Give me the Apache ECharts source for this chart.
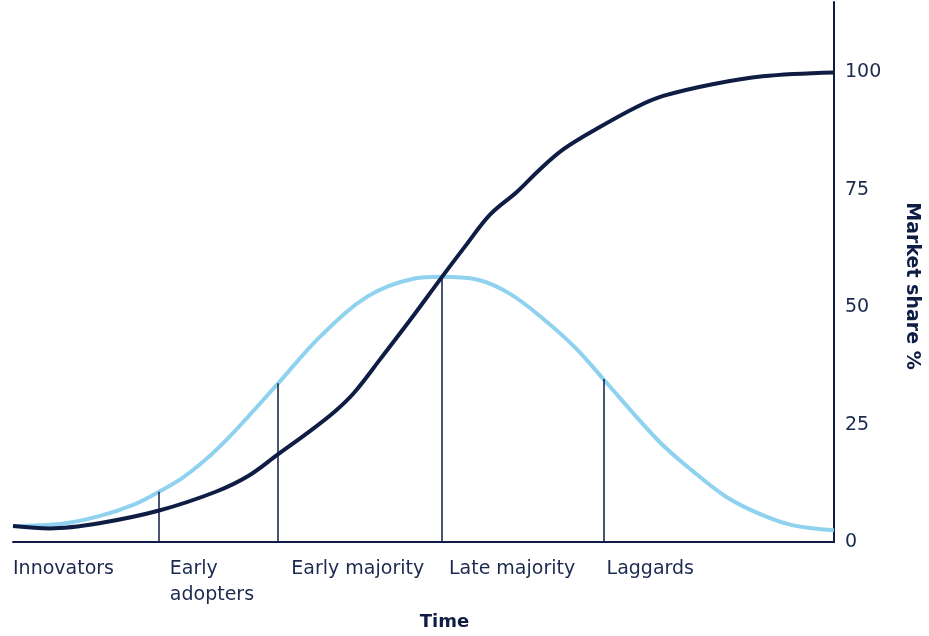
<!DOCTYPE html>
<html>
<head>
<meta charset="utf-8">
<script src="https://cdn.jsdelivr.net/npm/echarts@6/dist/echarts.min.js"></script>
<style>html,body{margin:0;padding:0;background:#fff;}#c{width:929px;height:636px;}</style>
</head>
<body>
<div id="c"></div>
<script>
// Cumulative market share (S-curve)
const shareX = [0, 4.5, 10.5, 17.8, 24.7, 28.7, 32.3, 36.0, 39.2, 41.6, 44.8, 48.9, 52.1, 55.0, 58.1, 61.4, 64.2, 67.1, 71.1, 75.9, 79.2, 85.2, 91.3, 100];
const shareY = [3.4, 2.9, 4.0, 6.7, 10.7, 14.1, 18.7, 23.4, 27.8, 31.9, 39.1, 48.5, 56.1, 62.8, 69.7, 74.6, 79.4, 83.7, 88.0, 92.6, 95.0, 97.5, 99.2, 100];
// Adopters (bell curve)
const adoptX = [0, 6.0, 10.5, 14.8, 17.8, 20.6, 23.5, 26.3, 28.7, 32.3, 37.5, 43.2, 48.9, 52.1, 56.5, 60.5, 64.6, 68.6, 72.0, 78.7, 82.8, 86.8, 90.8, 94.9, 100];
const adoptY = [3.4, 3.9, 5.5, 8.0, 10.7, 13.6, 17.6, 22.3, 26.8, 33.8, 43.9, 52.3, 56.1, 56.5, 55.9, 52.9, 47.5, 41.2, 34.5, 21.4, 15.1, 9.7, 6.1, 3.6, 2.5];
// Segment dividers
const dividerX = [17.8, 32.3, 52.2, 72.0];
const dividerTop = [10.7, 33.8, 56.9, 34.7];
// Category labels (placed at segment starts)
const categories = ['Innovators', 'Early\nadopters', 'Early majority', 'Late majority', 'Laggards'];
const categoryX = [0, 19.1, 33.9, 53.1, 72.3];
const yTicks = [0, 25, 50, 75, 100];

const navy = '#0f1d45';
const textColor = '#1c2a4f';
const lightBlue = '#8fd2ef';

const chart = echarts.init(document.getElementById('c'));
chart.setOption({
  animation: false,
  backgroundColor: '#fff',
  grid: { left: 13, right: 90, top: 2, bottom: 87, containLabel: false },
  xAxis: {
    type: 'value', min: 0, max: 100,
    name: 'Time', nameLocation: 'middle', nameGap: 71,
    nameTextStyle: { fontFamily: 'DejaVu Sans', fontWeight: 'bold', fontSize: 18, color: navy, padding: [0, 0, 0, 42] },
    axisLine: { show: true, onZero: false, lineStyle: { color: navy, width: 2 } },
    axisTick: { show: false },
    splitLine: { show: false },
    axisLabel: {
      customValues: categoryX,
      formatter: function (v) { const i = categoryX.indexOf(v); return i >= 0 ? categories[i] : ''; },
      align: 'left', verticalAlign: 'top', margin: 14,
      fontFamily: 'DejaVu Sans', fontSize: 19, lineHeight: 26, color: textColor
    }
  },
  yAxis: {
    type: 'value', min: 0, max: 115, position: 'right',
    name: 'Market share %', nameLocation: 'middle', nameRotate: -90, nameGap: 68,
    nameTextStyle: { fontFamily: 'DejaVu Sans', fontWeight: 'bold', fontSize: 19, color: navy, padding: [0, 0, 0, 28] },
    axisLine: { show: true, onZero: false, lineStyle: { color: navy, width: 2 } },
    axisTick: { show: false },
    splitLine: { show: false },
    axisLabel: {
      customValues: yTicks, margin: 11,
      fontFamily: 'DejaVu Sans', fontSize: 19, color: textColor
    }
  },
  series: [
    {
      type: 'line', name: 'Adopters',
      data: adoptX.map((x, i) => [x, adoptY[i]]),
      smooth: 0.35, showSymbol: false, symbol: 'none',
      lineStyle: { color: lightBlue, width: 4 },
      z: 2,
      markLine: {
        silent: true, symbol: 'none', label: { show: false },
        lineStyle: { color: navy, width: 1.5, type: 'solid' },
        data: dividerX.map((x, i) => [{ coord: [x, 0] }, { coord: [x, dividerTop[i]] }])
      }
    },
    {
      type: 'line', name: 'Market share',
      data: shareX.map((x, i) => [x, shareY[i]]),
      smooth: 0.35, showSymbol: false, symbol: 'none',
      lineStyle: { color: navy, width: 4 },
      z: 3
    }
  ]
});
</script>
</body>
</html>
